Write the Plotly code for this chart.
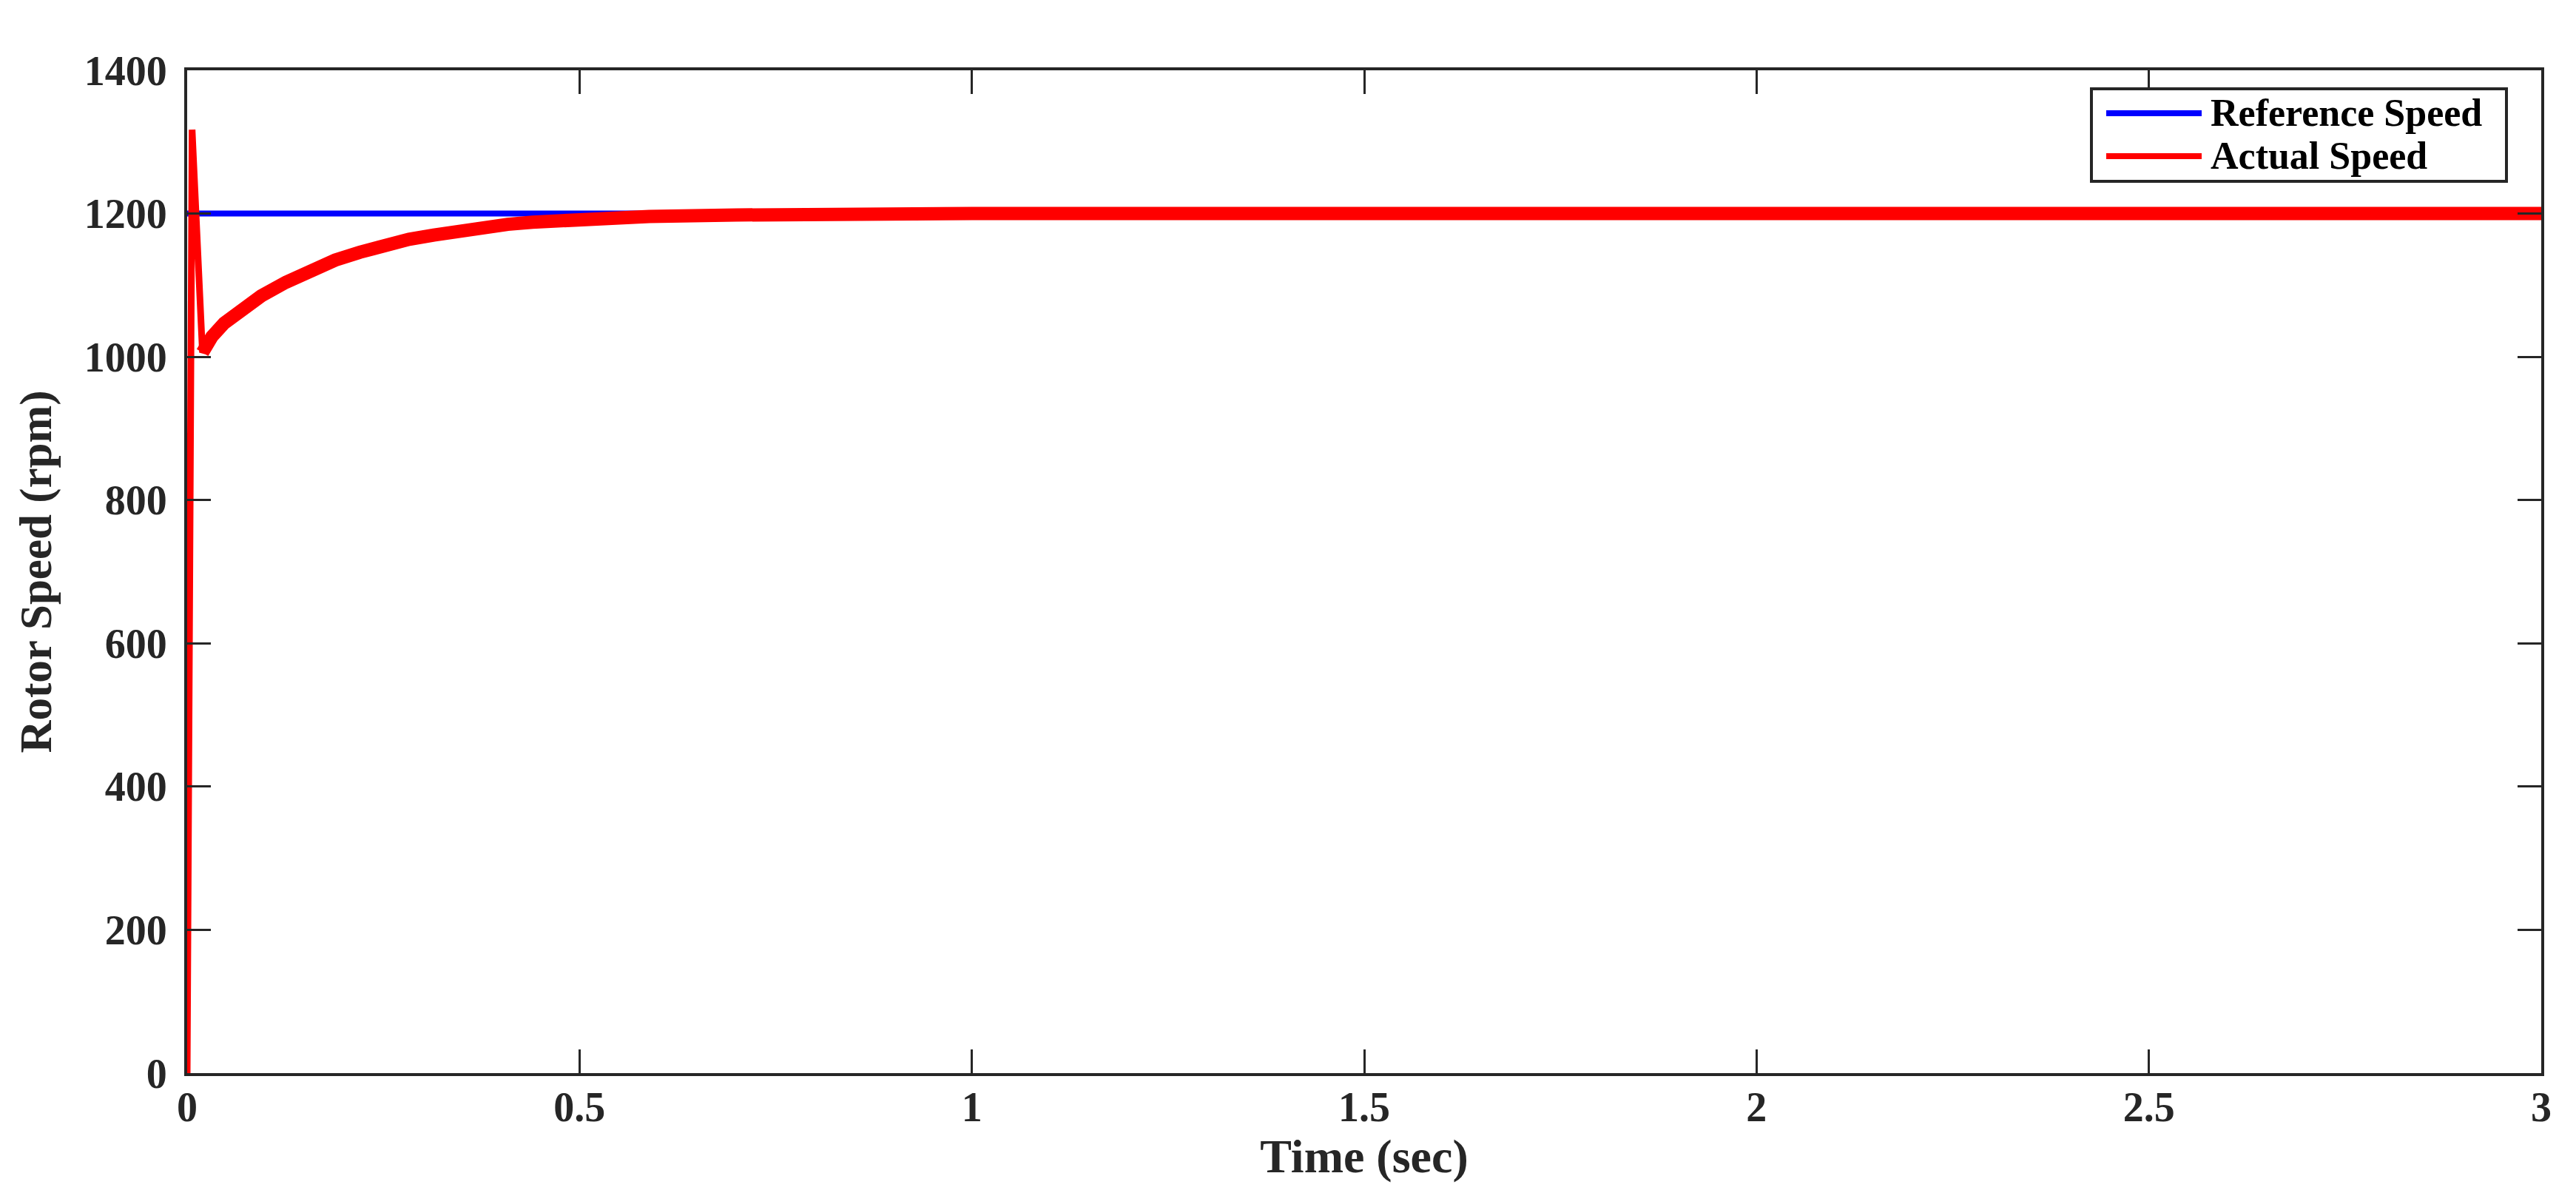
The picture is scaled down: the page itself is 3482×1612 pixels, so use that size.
import plotly.graph_objects as go

# values
ref_time = [0.0, 3.0]
ref_speed = [1200, 1200]

act_time = [0.0, 0.005, 0.0063, 0.0195, 0.0314, 0.0471, 0.0628, 0.0943, 0.1257, 0.157,
            0.1886, 0.22, 0.2514, 0.2828, 0.3143, 0.3457, 0.3771, 0.4085, 0.44, 0.49,
            0.589, 0.70, 0.80, 1.0, 1.5, 2.0, 2.5, 3.0]
act_speed = [0, 1000, 1317, 1006, 1028, 1047, 1061, 1085, 1104, 1121,
             1135, 1146, 1156, 1164, 1170, 1176, 1181, 1185, 1188, 1192,
             1196, 1198, 1199, 1200, 1200, 1200, 1200, 1200]

x_ticks = [0, 0.5, 1, 1.5, 2, 2.5, 3]
x_ticktext = ["0", "0.5", "1", "1.5", "2", "2.5", "3"]
y_ticks = [0, 200, 400, 600, 800, 1000, 1200, 1400]

legend_names = ["Reference Speed", "Actual Speed"]
legend_colors = ["#0000FF", "#FF0000"]

W, H = 3482, 1612
L, R, T, B = 245, 3427, 87, 1442      # plot area in pixels
FONT = "Liberation Serif, Times New Roman, serif"
AX = "#262626"


def px(x):
    return (x - L) / (R - L)


def py(y):
    return (B - y) / (B - T)


fig = go.Figure()
fig.add_trace(go.Scatter(x=ref_time, y=ref_speed, mode="lines",
                         line=dict(color=legend_colors[0], width=8), showlegend=False))
# start-up spike, thinner stroke
fig.add_trace(go.Scatter(x=act_time[:5], y=act_speed[:5], mode="lines",
                         line=dict(color=legend_colors[1], width=9), showlegend=False))
# settling part, thick noisy band
fig.add_trace(go.Scatter(x=act_time[3:], y=act_speed[3:], mode="lines",
                         line=dict(color=legend_colors[1], width=18), showlegend=False))

axis_common = dict(
    showline=True, linecolor=AX, linewidth=4, mirror="allticks",
    ticks="inside", ticklen=32, tickwidth=3, tickcolor=AX,
    showgrid=False, zeroline=False,
    tickfont=dict(family=FONT, size=56, color=AX, weight="bold"),
)

fig.update_xaxes(range=[0, 3], tickvals=x_ticks, ticktext=x_ticktext,
                 ticklabelstandoff=-6,
                 title=dict(text="Time (sec)", standoff=13,
                            font=dict(family=FONT, size=64, color=AX, weight="bold")),
                 **axis_common)
fig.update_yaxes(range=[0, 1400], tickvals=y_ticks,
                 ticklabelstandoff=12,
                 title=dict(text="Rotor Speed (rpm)", standoff=25,
                            font=dict(family=FONT, size=61, color=AX, weight="bold")),
                 **axis_common)

# legend box drawn by hand to match MATLAB style
shapes = [dict(type="rect", xref="paper", yref="paper",
               x0=px(2819), x1=px(3380), y0=py(237), y1=py(112),
               line=dict(color=AX, width=4), fillcolor="white", layer="above")]
annotations = []
for i, (name, col) in enumerate(zip(legend_names, legend_colors)):
    yy = 145 + i * 58
    shapes.append(dict(type="line", xref="paper", yref="paper",
                       x0=px(2839), x1=px(2968), y0=py(yy), y1=py(yy),
                       line=dict(color=col, width=8), layer="above"))
    annotations.append(dict(text=name, xref="paper", yref="paper",
                            x=px(2978), y=py(yy), xanchor="left", yanchor="middle",
                            showarrow=False,
                            font=dict(family=FONT, size=52, color="black", weight="bold")))

fig.update_layout(
    width=W, height=H,
    margin=dict(l=L, r=W - R, t=T, b=H - B),
    paper_bgcolor="white", plot_bgcolor="white",
    showlegend=False,
    shapes=shapes, annotations=annotations,
)

fig.write_html("out.html")
